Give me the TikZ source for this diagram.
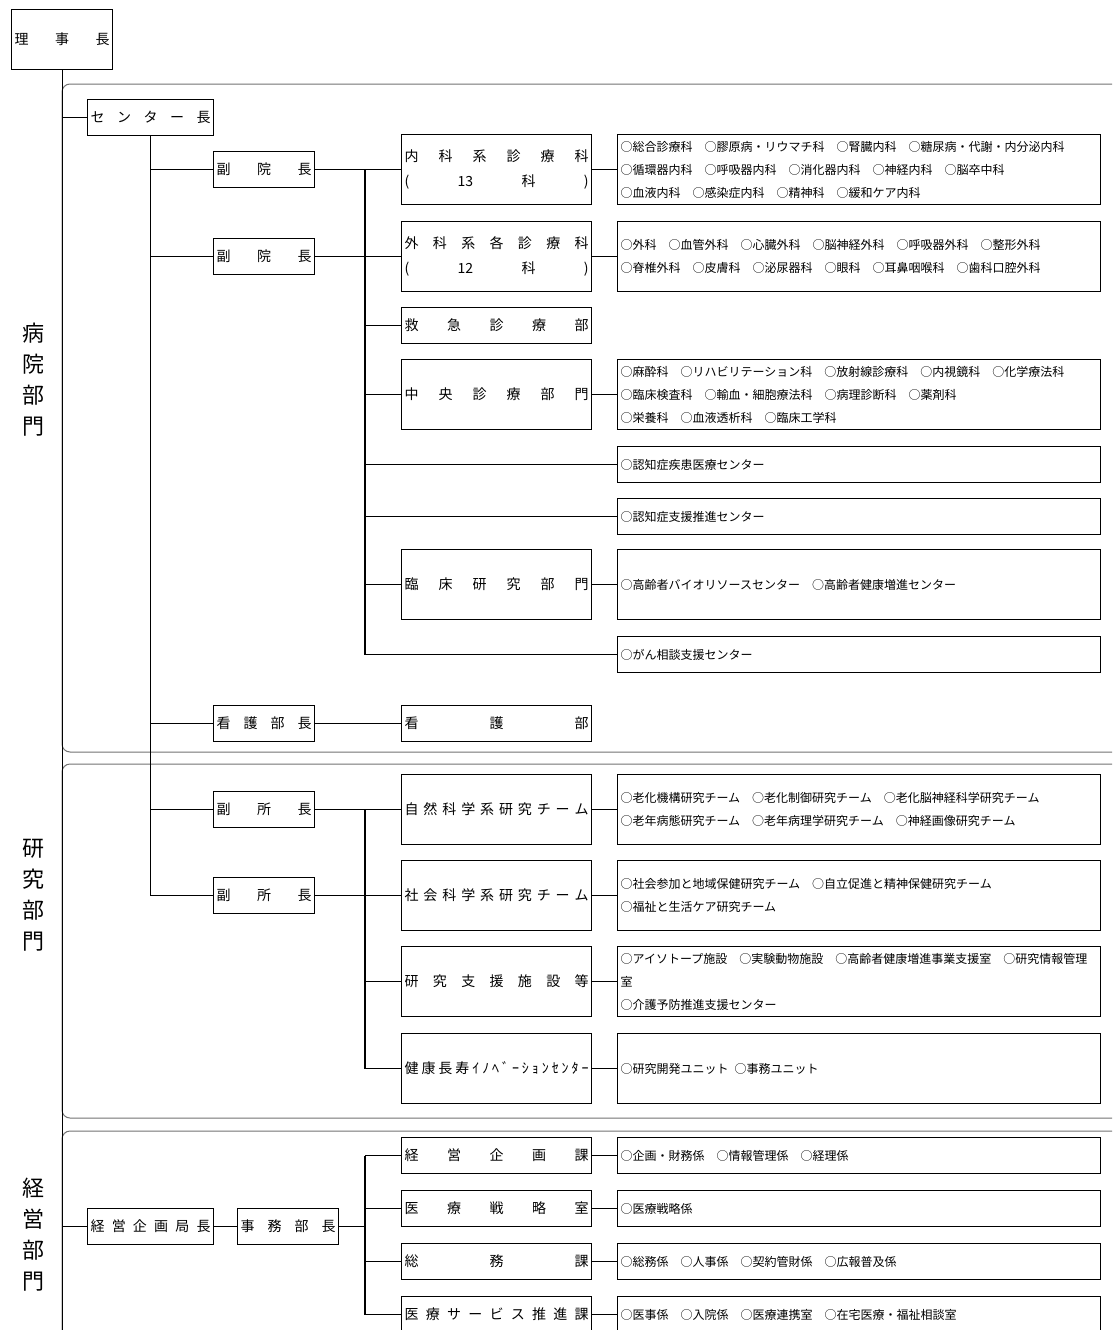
\documentclass[tikz,border=0pt]{standalone}
\usepackage{fontspec}
\setmainfont{Noto Sans CJK JP}
\usetikzlibrary{positioning}
\makeatletter
\newcommand\jspread[1]{\hbox to\hsize{\js@first#1\js@end}}
\def\js@end{\relax}
\def\js@first#1{#1\js@next}
\def\js@next#1{\ifx\js@end#1\else\hfill#1\expandafter\js@next\fi}
\makeatother

\begin{document}
\begin{tikzpicture}[x=1pt,y=-1pt,line width=1.2pt,
  box/.style={draw, anchor=north west, inner xsep=3pt, inner ysep=0pt, minimum height=36pt, align=left},
  head/.style={box, text width=95pt, font=\fontsize{14}{16}\selectfont},
  chief/.style={box, text width=120pt, font=\fontsize{14}{16}\selectfont},
  unit/.style={box, text width=184pt, font=\fontsize{14}{25}\selectfont},
  list/.style={box, text width=477pt, font=\fontsize{12}{23}\selectfont},
  tall/.style={minimum height=70pt},
  frame/.style={draw=black!55, line width=1pt, rounded corners=8pt},
  sect/.style={align=center, font=\fontsize{22}{31}\selectfont}]
  \path[use as bounding box, fill=white] (0,0) rectangle (1112,1330);
  \clip (0,0) rectangle (1112,1330);
  \draw[frame] (62,84) rectangle (1140,752);
  \draw[frame] (62,764) rectangle (1140,1118);
  \draw[frame] (62,1131) rectangle (1140,1360);
  \node[sect] (sec1) at (33,380) {病\\院\\部\\門};
  \node[sect] (sec2) at (33,895) {研\\究\\部\\門};
  \node[sect] (sec3) at (33,1235) {経\\営\\部\\門};

  \node[head, minimum height=60pt] (riji) at (11,9) {\jspread{理事長}};
  \node[chief] (ctr) at (87,99) {\jspread{センター長}};
  \node[head] (fuk1) at (213,151) {\jspread{副院長}};
  \node[head] (fuk2) at (213,238) {\jspread{副院長}};
  \node[head] (kgc) at (213,705) {\jspread{看護部長}};
  \node[head] (fs1) at (213,791) {\jspread{副所長}};
  \node[head] (fs2) at (213,877) {\jspread{副所長}};
  \node[chief] (kyok) at (87,1208) {\jspread{経営企画局長}};
  \node[head] (jimu) at (237,1208) {\jspread{事務部長}};

  \node[unit, tall] (naika) at (401,134) {\jspread{内科系診療科}\\\jspread{({13}科)}};
  \node[unit, tall] (geka) at (401,221) {\jspread{外科系各診療科}\\\jspread{({12}科)}};
  \node[unit] (kyq) at (401,307) {\jspread{救急診療部}};
  \node[unit, tall] (chuo) at (401,359) {\jspread{中央診療部門}};
  \node[unit, tall] (rinsho) at (401,549) {\jspread{臨床研究部門}};
  \node[unit] (kango) at (401,705) {\jspread{看護部}};
  \node[unit, tall] (shizen) at (401,774) {\jspread{自然科学系研究チーム}};
  \node[unit, tall] (shakai) at (401,860) {\jspread{社会科学系研究チーム}};
  \node[unit, tall] (shien) at (401,946) {\jspread{研究支援施設等}};
  \node[unit, tall] (innov) at (401,1033) {\jspread{健康長寿ｲﾉﾍﾞｰｼｮﾝｾﾝﾀｰ}};
  \node[unit] (kikaku) at (401,1137) {\jspread{経営企画課}};
  \node[unit] (senr) at (401,1190) {\jspread{医療戦略室}};
  \node[unit] (somu) at (401,1243) {\jspread{総務課}};
  \node[unit] (serv) at (401,1296) {\jspread{医療サービス推進課}};

  \node[list, tall] (lnaika) at (617,134) {○総合診療科　○膠原病・リウマチ科　○腎臓内科　○糖尿病・代謝・内分泌内科\\○循環器内科　○呼吸器内科　○消化器内科　○神経内科　○脳卒中科\\○血液内科　○感染症内科　○精神科　○緩和ケア内科};
  \node[list, tall] (lgeka) at (617,221) {○外科　○血管外科　○心臓外科　○脳神経外科　○呼吸器外科　○整形外科\\○脊椎外科　○皮膚科　○泌尿器科　○眼科　○耳鼻咽喉科　○歯科口腔外科};
  \node[list, tall] (lchuo) at (617,359) {○麻酔科　○リハビリテーション科　○放射線診療科　○内視鏡科　○化学療法科\\○臨床検査科　○輸血・細胞療法科　○病理診断科　○薬剤科\\○栄養科　○血液透析科　○臨床工学科};
  \node[list] (lnin1) at (617,446) {○認知症疾患医療センター};
  \node[list] (lnin2) at (617,498) {○認知症支援推進センター};
  \node[list, tall] (lrin) at (617,549) {○高齢者バイオリソースセンター　○高齢者健康増進センター};
  \node[list] (lgan) at (617,636) {○がん相談支援センター};
  \node[list, tall] (lshizen) at (617,774) {○老化機構研究チーム　○老化制御研究チーム　○老化脳神経科学研究チーム\\○老年病態研究チーム　○老年病理学研究チーム　○神経画像研究チーム};
  \node[list, tall] (lshakai) at (617,860) {○社会参加と地域保健研究チーム　○自立促進と精神保健研究チーム\\○福祉と生活ケア研究チーム};
  \node[list, tall] (lshien) at (617,946) {○アイソトープ施設　○実験動物施設　○高齢者健康増進事業支援室　○研究情報管理\\室\\○介護予防推進支援センター};
  \node[list, tall] (linnov) at (617,1033) {○研究開発ユニット\enspace○事務ユニット};
  \node[list] (lkikaku) at (617,1137) {○企画・財務係　○情報管理係　○経理係};
  \node[list] (lsenr) at (617,1190) {○医療戦略係};
  \node[list] (lsomu) at (617,1243) {○総務係　○人事係　○契約管財係　○広報普及係};
  \node[list] (lserv) at (617,1296) {○医事係　○入院係　○医療連携室　○在宅医療・福祉相談室};

  \coordinate (mainend) at (62,1345);
  \coordinate (br) at (365,0);
  \draw (riji.south) -- (riji.south |- mainend);
  \draw (riji.south |- ctr.west) -- (ctr.west);
  \draw (riji.south |- kyok.west) -- (kyok.west);
  \draw (ctr.south) -- (ctr.south |- fs2.west);
  \foreach \n in {fuk1,fuk2,kgc,fs1,fs2}
    \draw (ctr.south |- \n.west) -- (\n.west);
  \draw (kyok) -- (jimu);
  \foreach \a/\b in {fuk1/naika,fuk2/geka,kgc/kango,fs1/shizen,fs2/shakai}
    \draw (\a) -- (\b);
  \draw (br |- naika.west) -- (br |- lgan.west);
  \draw (br |- shizen.west) -- (br |- innov.west);
  \draw (br |- kikaku.west) -- (br |- serv.west);
  \draw (jimu.east) -- (br |- jimu.east);
  \foreach \n in {kyq,chuo,rinsho,lnin1,lnin2,lgan,shien,innov,kikaku,senr,somu,serv}
    \draw (br |- \n.west) -- (\n.west);
  \foreach \a/\b in {naika/lnaika,geka/lgeka,chuo/lchuo,rinsho/lrin,shizen/lshizen,shakai/lshakai,shien/lshien,innov/linnov,kikaku/lkikaku,senr/lsenr,somu/lsomu,serv/lserv}
    \draw (\a) -- (\b);
\end{tikzpicture}
\end{document}
